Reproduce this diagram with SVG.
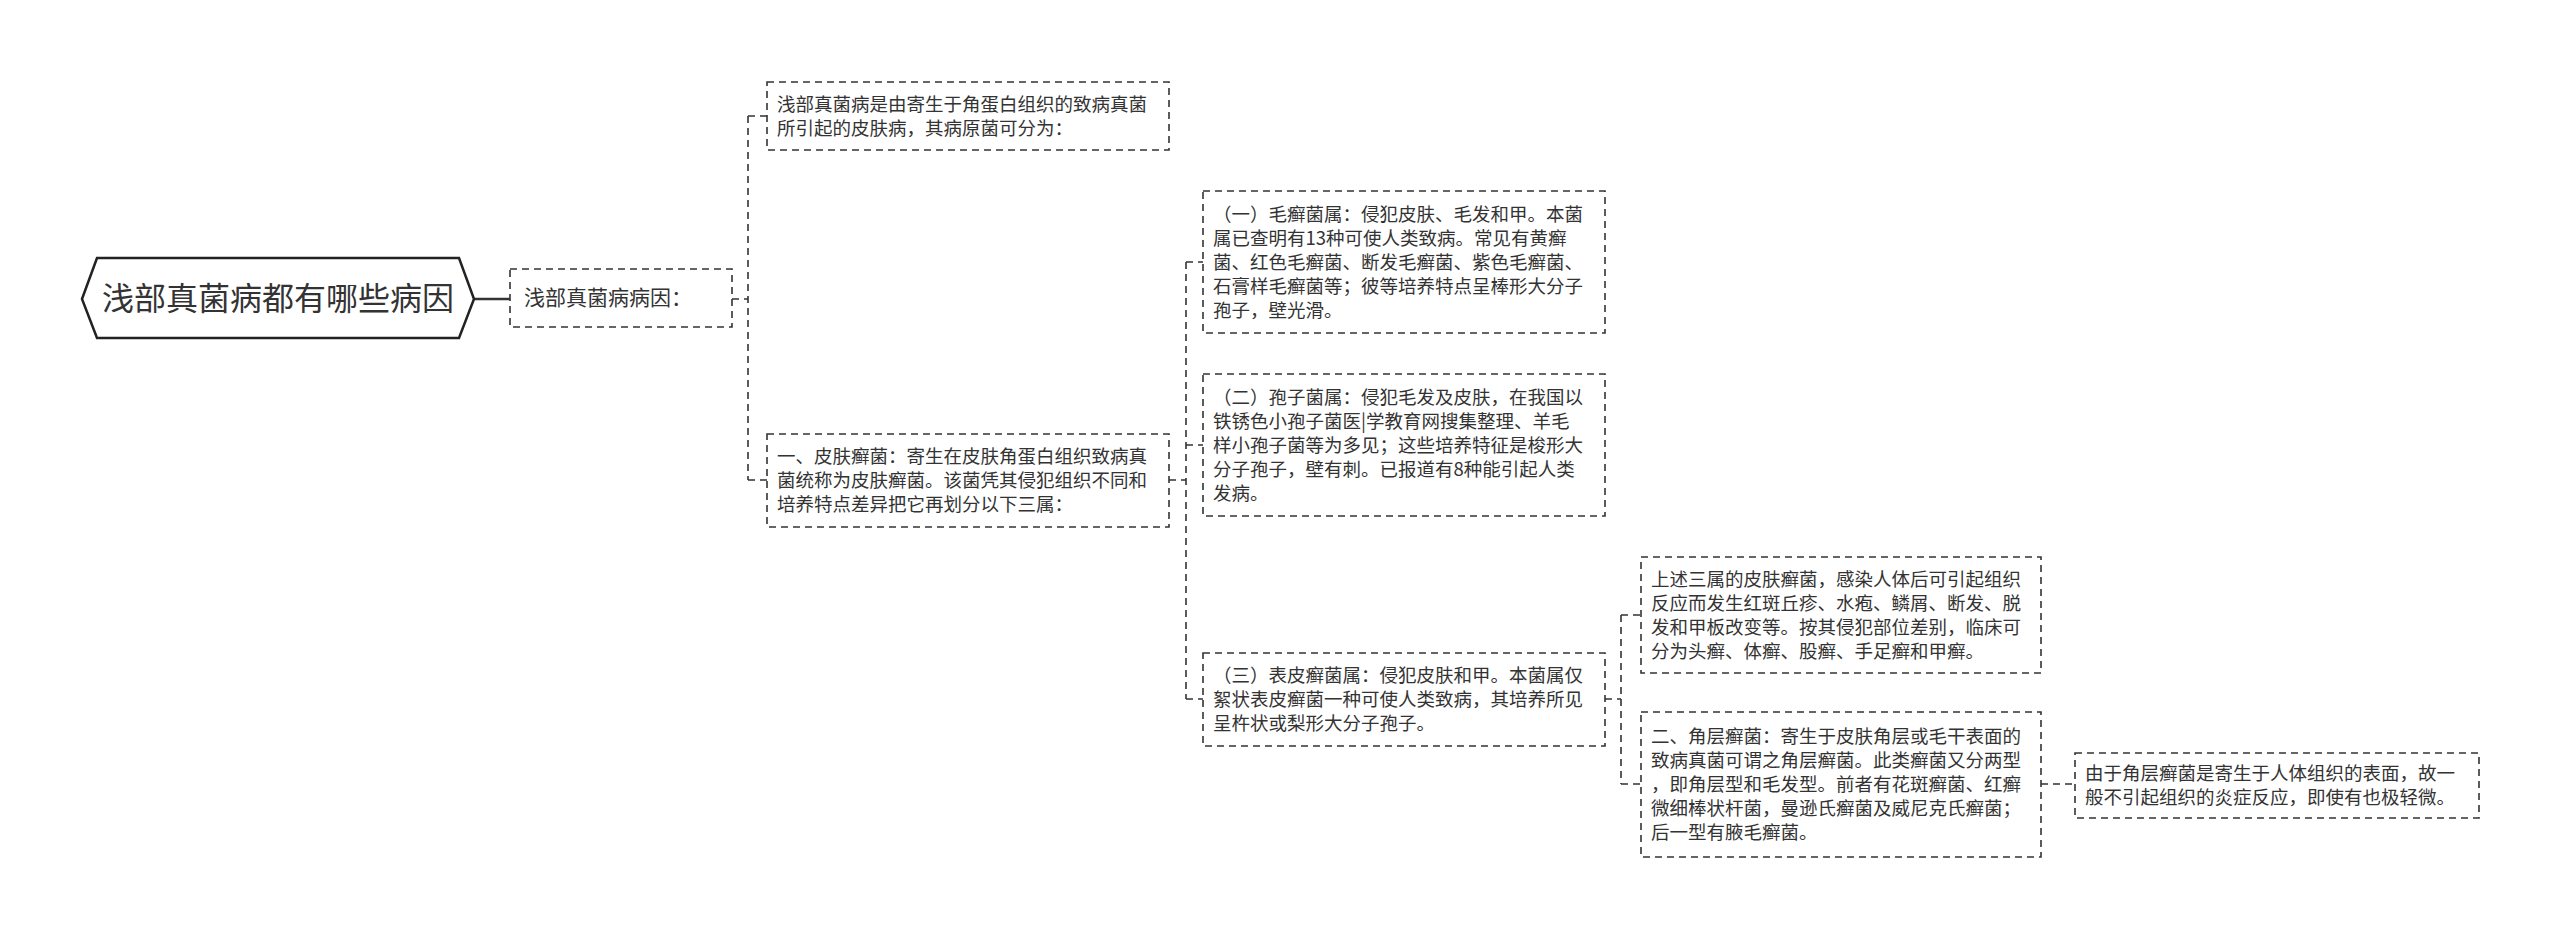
<svg xmlns="http://www.w3.org/2000/svg" width="2560" height="939" viewBox="0 0 2560 939">
<style>
text{font-family:"Noto Sans CJK SC","Noto Sans",sans-serif;fill:#333;font-size:18.5px}
.box{fill:#fff;stroke:#333;stroke-width:1.6;stroke-dasharray:7 5}
.c{fill:none;stroke:#333;stroke-width:1.6;stroke-dasharray:7 5}
</style>
<rect width="2560" height="939" fill="#fff"/>
<g id="connectors">
<line x1="474" y1="299" x2="510" y2="299" stroke="#333" stroke-width="2.5"/>
<path class="c" d="M732 299H748M748 116V480M748 116H767M748 480H767"/>
<path class="c" d="M1169 480H1186M1186 262V699M1186 262H1203M1186 445H1203M1186 699H1203"/>
<path class="c" d="M1605 699H1621M1621 615V784M1621 615H1641M1621 784H1641"/>
<path class="c" d="M2041 784H2075"/>
</g>
<g id="root">
<polygon points="82,299 97,258 459,258 474,299 459,338 97,338" fill="#fff" stroke="#222" stroke-width="2.5"/>
<text x="278" y="310" text-anchor="middle" style="font-size:32px">浅部真菌病都有哪些病因</text>
</g>
<g id="n1"><rect class="box" x="510" y="269" width="222" height="58"/><text x="524" y="305" style="font-size:21px">浅部真菌病病因：</text></g>
<g id="nA"><rect class="box" x="767" y="82" width="402" height="68"/>
<text x="777" y="111">浅部真菌病是由寄生于角蛋白组织的致病真菌</text><text x="777" y="135">所引起的皮肤病，其病原菌可分为：</text></g>
<g id="nB"><rect class="box" x="767" y="434" width="402" height="93"/>
<text x="777" y="463">一、皮肤癣菌：寄生在皮肤角蛋白组织致病真</text><text x="777" y="487">菌统称为皮肤癣菌。该菌凭其侵犯组织不同和</text><text x="777" y="511">培养特点差异把它再划分以下三属：</text></g>
<g id="nC1"><rect class="box" x="1203" y="191" width="402" height="142"/>
<text x="1213" y="221">（一）毛癣菌属：侵犯皮肤、毛发和甲。本菌</text><text x="1213" y="245">属已查明有13种可使人类致病。常见有黄癣</text><text x="1213" y="269">菌、红色毛癣菌、断发毛癣菌、紫色毛癣菌、</text><text x="1213" y="293">石膏样毛癣菌等；彼等培养特点呈棒形大分子</text><text x="1213" y="317">孢子，壁光滑。</text></g>
<g id="nC2"><rect class="box" x="1203" y="374" width="402" height="142"/>
<text x="1213" y="404">（二）孢子菌属：侵犯毛发及皮肤，在我国以</text><text x="1213" y="428">铁锈色小孢子菌医|学教育网搜集整理、羊毛</text><text x="1213" y="452">样小孢子菌等为多见；这些培养特征是梭形大</text><text x="1213" y="476">分子孢子，壁有刺。已报道有8种能引起人类</text><text x="1213" y="500">发病。</text></g>
<g id="nC3"><rect class="box" x="1203" y="653" width="402" height="93"/>
<text x="1213" y="682">（三）表皮癣菌属：侵犯皮肤和甲。本菌属仅</text><text x="1213" y="706">絮状表皮癣菌一种可使人类致病，其培养所见</text><text x="1213" y="730">呈杵状或梨形大分子孢子。</text></g>
<g id="nD1"><rect class="box" x="1641" y="557" width="400" height="116"/>
<text x="1651" y="586">上述三属的皮肤癣菌，感染人体后可引起组织</text><text x="1651" y="610">反应而发生红斑丘疹、水疱、鳞屑、断发、脱</text><text x="1651" y="634">发和甲板改变等。按其侵犯部位差别，临床可</text><text x="1651" y="658">分为头癣、体癣、股癣、手足癣和甲癣。</text></g>
<g id="nD2"><rect class="box" x="1641" y="712" width="400" height="145"/>
<text x="1651" y="743">二、角层癣菌：寄生于皮肤角层或毛干表面的</text><text x="1651" y="767">致病真菌可谓之角层癣菌。此类癣菌又分两型</text><text x="1651" y="791">，即角层型和毛发型。前者有花斑癣菌、红癣</text><text x="1651" y="815">微细棒状杆菌，曼逊氏癣菌及威尼克氏癣菌；</text><text x="1651" y="839">后一型有腋毛癣菌。</text></g>
<g id="nE"><rect class="box" x="2075" y="753" width="404" height="65"/>
<text x="2085" y="780">由于角层癣菌是寄生于人体组织的表面，故一</text><text x="2085" y="804">般不引起组织的炎症反应，即使有也极轻微。</text></g>
</svg>
